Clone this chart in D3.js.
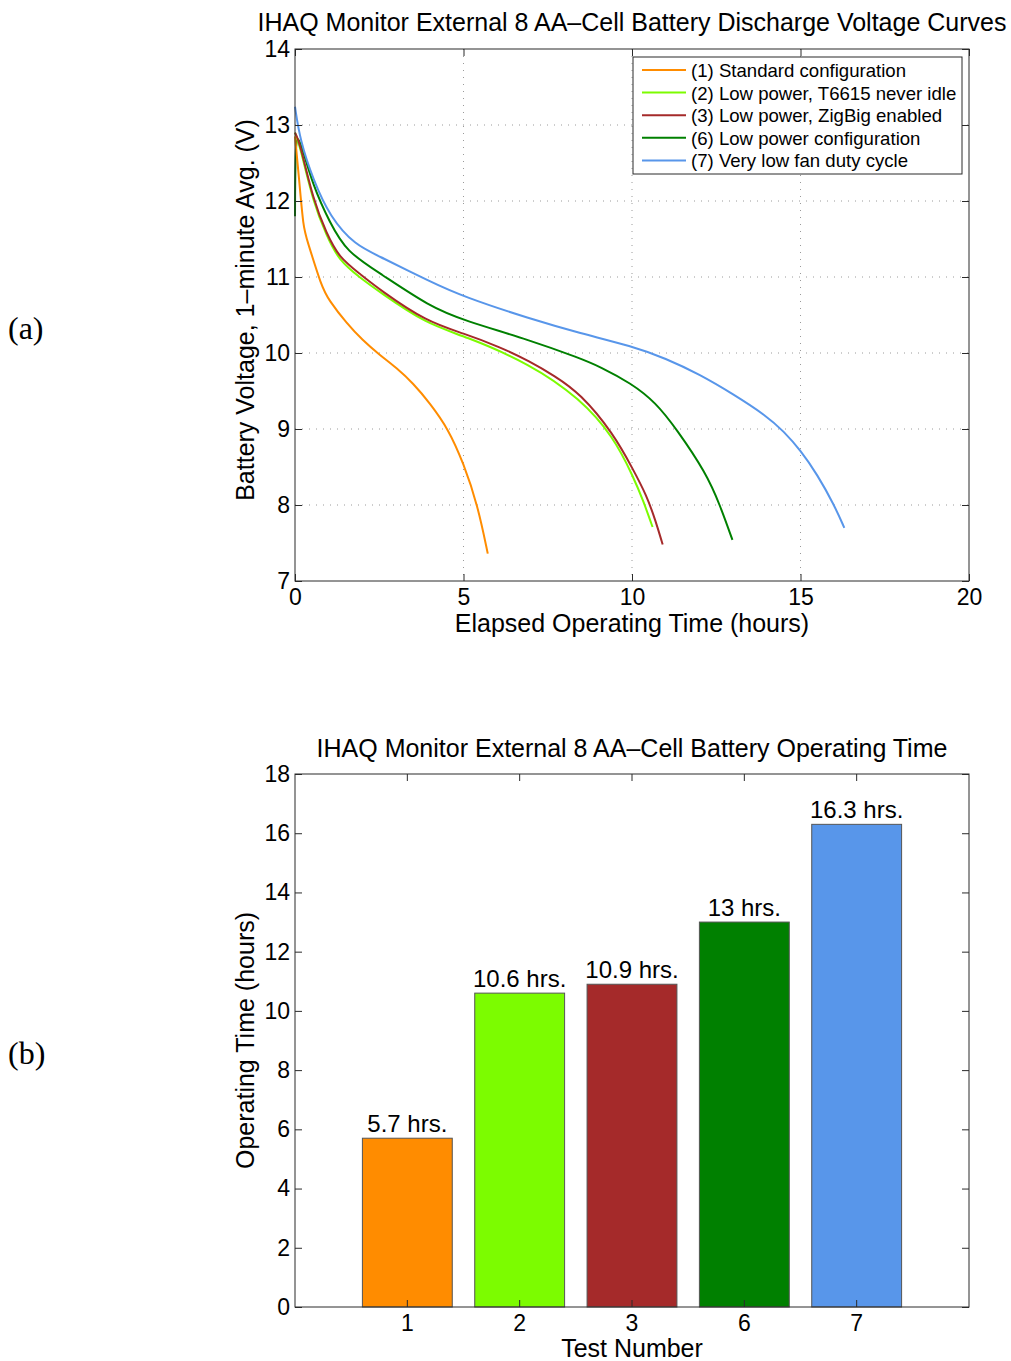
<!DOCTYPE html>
<html>
<head>
<meta charset="utf-8">
<script src="https://cdn.jsdelivr.net/npm/d3@7"></script>
<style>
  body { margin: 0; background: #fff; }
  svg text { font-family: "Liberation Sans", Arial, Helvetica, sans-serif; fill: #000; }
  .panel-tag { font-family: "Liberation Serif", "Times New Roman", serif !important; }
</style>
</head>
<body>
<svg id="fig" width="1011" height="1361"></svg>
<script>
// ---- data: discharge curves (hours, volts) ----
var hours1 = [0, 0.12, 0.25, 0.35, 0.79, 1.0, 1.53, 2.0, 2.52, 3.0, 3.51, 4.0, 4.55, 5.0, 5.42, 5.72];
var volts1 = [12.85, 12.3, 11.64, 11.5, 10.87, 10.7, 10.39, 10.17, 9.97, 9.81, 9.6, 9.34, 9.0, 8.55, 8.0, 7.36];

var hours2 = [0, 0.15, 0.54, 0.94, 1.3, 1.93, 2.52, 3.91, 5.0, 6.97, 8.46, 9.45, 10.04, 10.34, 10.61];
var volts2 = [12.9, 12.72, 11.98, 11.54, 11.22, 10.99, 10.8, 10.38, 10.23, 9.86, 9.4, 8.9, 8.37, 8.05, 7.71];

var hours3 = [0, 0.15, 0.54, 0.94, 1.3, 1.93, 2.52, 3.91, 5.0, 6.08, 6.97, 7.7, 8.46, 9.45, 10.04, 10.43, 10.71, 10.91];
var volts3 = [12.9, 12.76, 12.01, 11.57, 11.26, 11.04, 10.83, 10.41, 10.26, 10.08, 9.89, 9.7, 9.47, 8.94, 8.46, 8.13, 7.78, 7.48];

var hours6 = [0, 0.01, 0.15, 0.54, 1.04, 1.53, 2.52, 4.0, 5.0, 6.97, 8.46, 9.05, 9.98, 10.7, 11.32, 12.2, 12.61, 12.98];
var volts6 = [11.8, 12.9, 12.8, 12.19, 11.71, 11.33, 11.05, 10.61, 10.43, 10.17, 9.93, 9.82, 9.6, 9.35, 9.0, 8.42, 8.0, 7.54];

var hours7 = [0, 0.15, 0.54, 1.04, 1.78, 2.52, 4.0, 5.0, 6.97, 8.46, 10.0, 11.0, 12.0, 13.0, 14.0, 14.5, 15.0, 15.5, 16.0, 16.3];
var volts7 = [13.24, 12.8, 12.28, 11.79, 11.42, 11.27, 10.94, 10.74, 10.45, 10.26, 10.09, 9.93, 9.72, 9.46, 9.17, 8.97, 8.72, 8.4, 8.0, 7.7];

var seriesNames = ['(1) Standard configuration', '(2) Low power, T6615 never idle', '(3) Low power, ZigBig enabled',
  '(6) Low power configuration', '(7) Very low fan duty cycle'];
var seriesColors = ['#ff8c00', '#7cfc00', '#a52a2a', '#008000', '#5896ea'];

var timeTicks = [0, 5, 10, 15, 20];
var voltTicks = [7, 8, 9, 10, 11, 12, 13, 14];

// ---- data: operating time bars ----
var testNumbers = ['1', '2', '3', '6', '7'];
var opHours = [5.7, 10.6, 10.9, 13, 16.3];
var opLabels = ['5.7 hrs.', '10.6 hrs.', '10.9 hrs.', '13 hrs.', '16.3 hrs.'];
var opTicks = [0, 2, 4, 6, 8, 10, 12, 14, 16, 18];

(function () {
  'use strict';
  var svg = d3.select('#fig');
  var frameColor = '#2b2b2b';
  var tickLen = 7;

  function inwardAxis(g, axis) {
    g.call(axis);
    g.select('.domain').remove();
    g.selectAll('.tick line').attr('stroke', frameColor);
    g.selectAll('.tick text').attr('font-size', 23).attr('fill', '#000');
  }

  /* ── (a) discharge curves ─────────────────────────────── */
  var A = { left: 295, right: 969, top: 49, bottom: 581 };
  var x = d3.scaleLinear().domain([0, 20]).range([A.left, A.right]);
  var y = d3.scaleLinear().domain([7, 14]).range([A.bottom, A.top]);
  var ga = svg.append('g');

  // dotted grid
  ga.append('g').selectAll('line').data(timeTicks.slice(1, -1)).enter().append('line')
    .attr('x1', function (d) { return x(d); }).attr('x2', function (d) { return x(d); })
    .attr('y1', A.top).attr('y2', A.bottom)
    .attr('stroke', '#9a9a9a').attr('stroke-width', 1).attr('stroke-dasharray', '1,6');
  ga.append('g').selectAll('line').data(voltTicks.slice(1, -1)).enter().append('line')
    .attr('y1', function (d) { return y(d); }).attr('y2', function (d) { return y(d); })
    .attr('x1', A.left).attr('x2', A.right)
    .attr('stroke', '#9a9a9a').attr('stroke-width', 1).attr('stroke-dasharray', '1,6');

  // curves (basis spline smooths the hand-read points)
  var allHours = [hours1, hours2, hours3, hours6, hours7];
  var allVolts = [volts1, volts2, volts3, volts6, volts7];
  var line = d3.line().x(function (d) { return x(d[0]); }).y(function (d) { return y(d[1]); })
    .curve(d3.curveBasis);
  // draw order: 6, 7 under, then 2, 3, 1
  [3, 4, 1, 2, 0].forEach(function (i) {
    var pts = allHours[i].map(function (h, k) { return [h, allVolts[i][k]]; });
    ga.append('path').datum(pts).attr('d', line)
      .attr('fill', 'none').attr('stroke', seriesColors[i]).attr('stroke-width', 2)
      .attr('stroke-linejoin', 'round');
  });

  // axes (ticks point inward, box on)
  inwardAxis(ga.append('g').attr('transform', 'translate(0,' + A.bottom + ')'),
    d3.axisBottom(x).tickValues(timeTicks).tickSize(-tickLen).tickPadding(8).tickFormat(d3.format('d')));
  inwardAxis(ga.append('g').attr('transform', 'translate(0,' + A.top + ')'),
    d3.axisTop(x).tickValues(timeTicks).tickSize(-tickLen).tickFormat(''));
  inwardAxis(ga.append('g').attr('transform', 'translate(' + A.left + ',0)'),
    d3.axisLeft(y).tickValues(voltTicks).tickSize(-tickLen).tickPadding(5).tickFormat(d3.format('d')));
  inwardAxis(ga.append('g').attr('transform', 'translate(' + A.right + ',0)'),
    d3.axisRight(y).tickValues(voltTicks).tickSize(-tickLen).tickFormat(''));
  ga.append('rect').attr('x', A.left).attr('y', A.top)
    .attr('width', A.right - A.left).attr('height', A.bottom - A.top)
    .attr('fill', 'none').attr('stroke', frameColor).attr('stroke-width', 1);

  // legend
  var leg = ga.append('g').attr('transform', 'translate(633,57)');
  leg.append('rect').attr('width', 329).attr('height', 117)
    .attr('fill', '#fff').attr('stroke', frameColor).attr('stroke-width', 1);
  seriesNames.forEach(function (name, i) {
    var ly = 13 + i * 22.6;
    leg.append('line').attr('x1', 9).attr('x2', 53).attr('y1', ly).attr('y2', ly)
      .attr('stroke', seriesColors[i]).attr('stroke-width', 2);
    leg.append('text').attr('x', 58).attr('y', ly + 7).attr('font-size', 18.6).text(name);
  });

  // titles and labels
  ga.append('text').attr('x', 632).attr('y', 31).attr('text-anchor', 'middle').attr('font-size', 25)
    .text('IHAQ Monitor External 8 AA\u2013Cell Battery Discharge Voltage Curves');
  ga.append('text').attr('x', 632).attr('y', 632).attr('text-anchor', 'middle').attr('font-size', 25)
    .text('Elapsed Operating Time (hours)');
  ga.append('text').attr('transform', 'translate(254,' + ((A.top + A.bottom) / 2 - 5) + ') rotate(-90)')
    .attr('text-anchor', 'middle').attr('font-size', 25)
    .text('Battery Voltage, 1\u2013minute Avg. (V)');
  ga.append('text').attr('class', 'panel-tag').attr('x', 8).attr('y', 339).attr('font-size', 32).text('(a)');

  /* ── (b) operating time bars ──────────────────────────── */
  var B = { left: 295, right: 969, top: 774, bottom: 1307 };
  var xb = d3.scaleBand().domain(testNumbers).range([B.left, B.right]).paddingInner(0.2).paddingOuter(0.6);
  var yb = d3.scaleLinear().domain([0, 18]).range([B.bottom, B.top]);
  var gb = svg.append('g');

  gb.selectAll('rect.bar').data(opHours).enter().append('rect')
    .attr('x', function (d, i) { return xb(testNumbers[i]); })
    .attr('y', function (d) { return yb(d); })
    .attr('width', xb.bandwidth())
    .attr('height', function (d) { return yb(0) - yb(d); })
    .attr('fill', function (d, i) { return seriesColors[i]; })
    .attr('stroke', '#555').attr('stroke-width', 1);

  gb.selectAll('text.val').data(opHours).enter().append('text')
    .attr('x', function (d, i) { return xb(testNumbers[i]) + xb.bandwidth() / 2; })
    .attr('y', function (d) { return yb(d) - 6; })
    .attr('text-anchor', 'middle').attr('font-size', 24)
    .text(function (d, i) { return opLabels[i]; });

  inwardAxis(gb.append('g').attr('transform', 'translate(0,' + B.bottom + ')'),
    d3.axisBottom(xb).tickSize(-tickLen).tickPadding(8));
  inwardAxis(gb.append('g').attr('transform', 'translate(0,' + B.top + ')'),
    d3.axisTop(xb).tickSize(-tickLen).tickFormat(''));
  inwardAxis(gb.append('g').attr('transform', 'translate(' + B.left + ',0)'),
    d3.axisLeft(yb).tickValues(opTicks).tickSize(-tickLen).tickPadding(5));
  inwardAxis(gb.append('g').attr('transform', 'translate(' + B.right + ',0)'),
    d3.axisRight(yb).tickValues(opTicks).tickSize(-tickLen).tickFormat(''));
  gb.append('rect').attr('x', B.left).attr('y', B.top)
    .attr('width', B.right - B.left).attr('height', B.bottom - B.top)
    .attr('fill', 'none').attr('stroke', frameColor).attr('stroke-width', 1);

  gb.append('text').attr('x', 632).attr('y', 757).attr('text-anchor', 'middle').attr('font-size', 25)
    .text('IHAQ Monitor External 8 AA\u2013Cell Battery Operating Time');
  gb.append('text').attr('x', 632).attr('y', 1357).attr('text-anchor', 'middle').attr('font-size', 25)
    .text('Test Number');
  gb.append('text').attr('transform', 'translate(254,' + ((B.top + B.bottom) / 2) + ') rotate(-90)')
    .attr('text-anchor', 'middle').attr('font-size', 25)
    .text('Operating Time (hours)');
  gb.append('text').attr('class', 'panel-tag').attr('x', 8).attr('y', 1064).attr('font-size', 32).text('(b)');
})();
</script>
</body>
</html>
